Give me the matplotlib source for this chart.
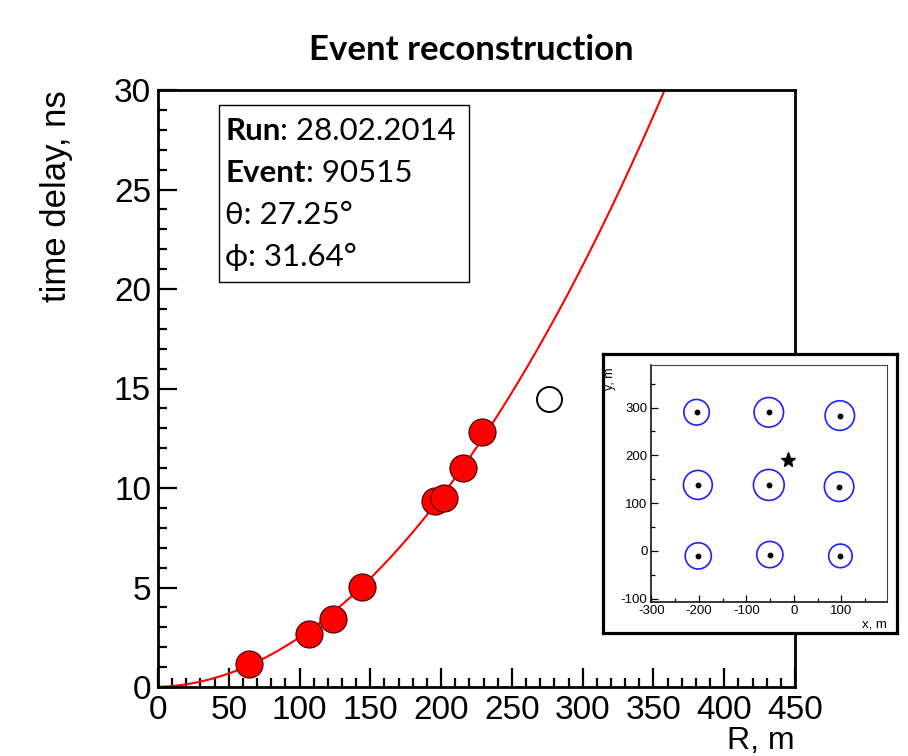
import numpy as np
import matplotlib
matplotlib.use("Agg")
import matplotlib.pyplot as plt
from matplotlib.ticker import MultipleLocator
from matplotlib.patches import Circle, Rectangle

plt.rcParams["axes.unicode_minus"] = False

# ---------------- data ----------------
R_hit = [64.2, 106.9, 123.3, 143.9, 195.8, 202.2, 215.7, 229.2]
t_hit = [1.14, 2.65, 3.41, 5.03, 9.37, 9.52, 10.98, 12.8]
R_out = [276.1]
t_out = [14.47]
fit_a = 2.28e-4   # ns / m^2
fit_b = 0.0022    # ns / m

x_ticks = [0, 50, 100, 150, 200, 250, 300, 350, 400, 450]
y_ticks = [0, 5, 10, 15, 20, 25, 30]

det_x = [-205.0, -52.9, 96.6, -202.3, -52.9, 95.1, -201.5, -50.7, 97.9]
det_y = [290.1, 290.0, 283.2, 138.0, 138.0, 134.5, -10.5, -7.7, -10.5]
ring_r = [26.8, 31.0, 31.0, 30.3, 32.4, 31.0, 27.5, 27.5, 24.7]
core_x = [-13.3]
core_y = [189.2]

info_bold = ["Run", "Event", "", ""]
info_rest = [": 28.02.2014", ": 90515", "θ: 27.25°", "ϕ: 31.64°"]

W, H = 908, 756
fig = plt.figure(figsize=(W / 100, H / 100), dpi=100)
fig.patch.set_facecolor("white")

def fx(px):
    return px / W

def fy(py):
    return 1 - py / H

# ---------------- main axes ----------------
ax = fig.add_axes([fx(158), fy(687), (795 - 158) / W, (687 - 90) / H])
ax.set_xlim(0, 450)
ax.set_ylim(0, 30)

Rc = np.linspace(0, 450, 500)
ax.plot(Rc, fit_a * Rc ** 2 + fit_b * Rc, color="#ff0000", lw=1.5, zorder=2)
ax.plot(R_hit, t_hit, "o", ms=19.5, mfc="#ff0000", mec="#3a0000", mew=0.8, zorder=3)
ax.plot(R_out, t_out, "o", ms=18, mfc="none", mec="black", mew=1.4, zorder=3)

for s in ax.spines.values():
    s.set_linewidth(2.0)
ax.set_xticks(x_ticks)
ax.set_yticks(y_ticks)
ax.xaxis.set_minor_locator(MultipleLocator(10))
ax.yaxis.set_minor_locator(MultipleLocator(1))
ax.tick_params(which="both", direction="in", top=False, right=False, width=1.6)
ax.tick_params(which="major", length=13.5, labelsize=24, pad=5)
ax.tick_params(which="minor", length=6.5)
ax.tick_params(axis="x", which="major", pad=6)
for lab in ax.get_xticklabels() + ax.get_yticklabels():
    lab.set_family("Liberation Sans")

ax.set_ylabel("time delay, ns", loc="top", fontsize=25, family="Liberation Sans")
ax.yaxis.set_label_coords(-0.133, 1.0)
ax.set_xlabel("R, m", loc="right", fontsize=23, family="Liberation Sans")
ax.xaxis.set_label_coords(1.0, -0.066)

fig.text(fx(471), fy(50), "Event reconstruction", ha="center", va="center",
         fontsize=25, fontweight="bold", family="Lato")

# ---------------- info box ----------------
fig.patches.append(Rectangle((fx(219), fy(282)), (469 - 219) / W, (282 - 105) / H,
                             transform=fig.transFigure, fill=True, facecolor="white",
                             edgecolor="black", lw=1.0, zorder=4))
renderer = fig.canvas.get_renderer()
base_y = [140, 182, 224, 266]
box_fs = 22.5
for b, r, yb in zip(info_bold, info_rest, base_y):
    x0 = fx(225)
    if b:
        t1 = fig.text(x0, fy(yb), b, fontsize=box_fs, fontweight="bold",
                      family="Lato", va="baseline", ha="left", zorder=5)
        bb = t1.get_window_extent(renderer=renderer)
        x0 = bb.x1 / W
    fig.text(x0, fy(yb), r, fontsize=box_fs, family=["Lato", "DejaVu Sans"],
             va="baseline", ha="left", zorder=5)

# ---------------- inset ----------------
frame = fig.add_axes([fx(602.5), fy(633), (897 - 602.5) / W, (633 - 354) / H], zorder=5)
frame.set_xticks([])
frame.set_yticks([])
frame.set_facecolor("white")
for s in frame.spines.values():
    s.set_linewidth(2.3)

ins = fig.add_axes([fx(651), fy(602), (887 - 651) / W, (602 - 365) / H], zorder=6)
ins.set_xlim(-301, 196)
ins.set_ylim(-107, 389)
for xc, yc, rr in zip(det_x, det_y, ring_r):
    ins.add_patch(Circle((xc, yc), rr, fill=False, edgecolor="#1f1fff", lw=1.2))
ins.plot(det_x, det_y, "o", ms=3.2, color="black")
ins.plot(core_x, core_y, "*", ms=11, color="black")
ins.set_xticks([-300, -200, -100, 0, 100])
ins.set_yticks([-100, 0, 100, 200, 300])
ins.xaxis.set_minor_locator(MultipleLocator(50))
ins.yaxis.set_minor_locator(MultipleLocator(50))
ins.tick_params(which="both", direction="in", top=False, right=False, width=0.9,
                labelsize=9.5, pad=2.5)
ins.tick_params(which="major", length=5)
ins.tick_params(which="minor", length=3)
for lab in ins.get_xticklabels() + ins.get_yticklabels():
    lab.set_family("Liberation Sans")
for sp in ["left", "bottom"]:
    ins.spines[sp].set_linewidth(1.1)
for sp in ["top", "right"]:
    ins.spines[sp].set_linewidth(0.8)
    ins.spines[sp].set_color("#444444")
ins.set_ylabel("y, m", loc="top", fontsize=9, family="Liberation Sans")
ins.yaxis.set_label_coords(-0.148, 0.99)
ins.set_xlabel("x, m", loc="right", fontsize=9.5, family="Liberation Sans")
ins.xaxis.set_label_coords(1.0, -0.07)

fig.savefig("out.png", dpi=100)
